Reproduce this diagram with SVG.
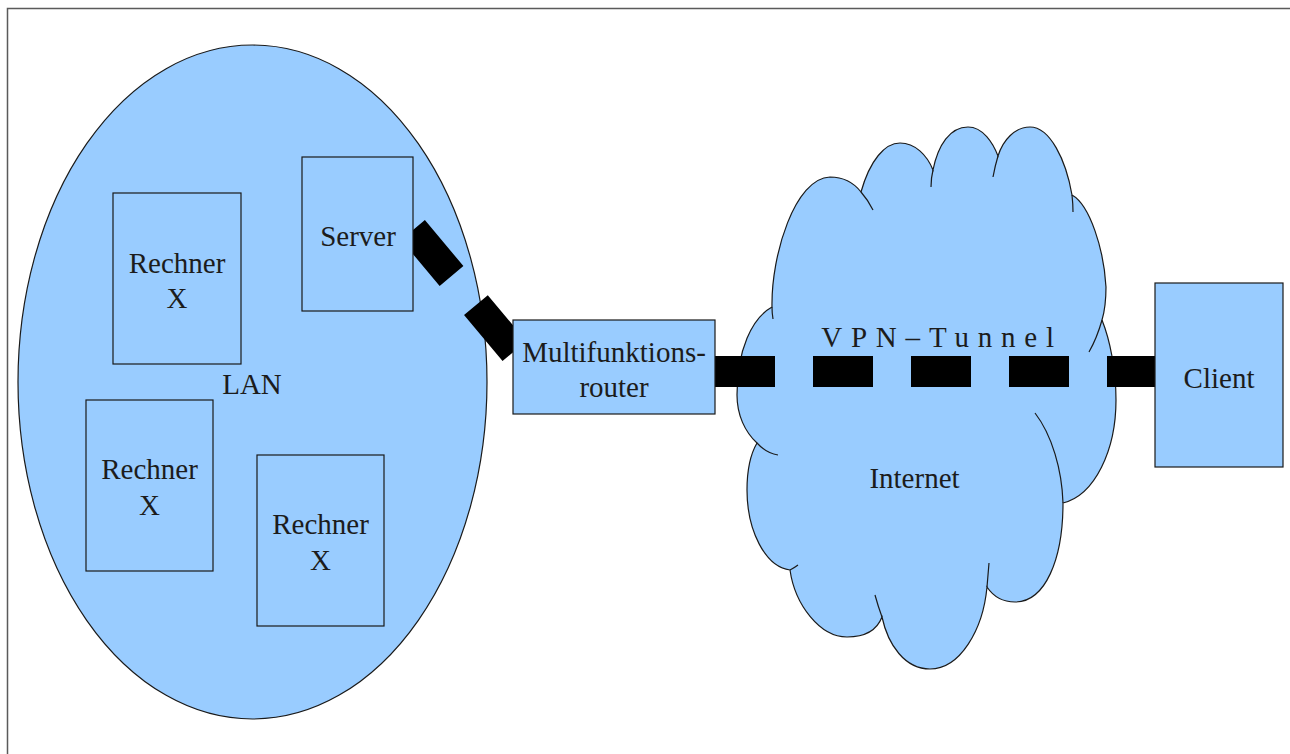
<svg xmlns="http://www.w3.org/2000/svg" width="1290" height="754" viewBox="0 0 1290 754">
<style>
.shape{fill:#99ccff;stroke:#1a1a1a;stroke-width:1.2}
.curl{fill:none;stroke:#1a1a1a;stroke-width:1.2}
.lbl{font-family:"Liberation Serif","Times New Roman",serif;font-size:29px;fill:#1c1c1c;text-anchor:middle}
.conn{fill:none;stroke:#000;stroke-width:31;stroke-dasharray:60 38;stroke-linecap:butt}
</style>
<rect x="0" y="0" width="1290" height="754" fill="#fff"/>
<path d="M7.5,754 V8.5 H1290" fill="none" stroke="#5a5a5a" stroke-width="1.5"/>
<g id="lan">
<ellipse class="shape" cx="252.5" cy="382" rx="234.5" ry="337"/>
<text class="lbl" x="252" y="394">LAN</text>
</g>
<g id="internet">
<path class="shape" d="M772,307 C771,255 795,178 830,177 C845,177 854,183 861,192 C870,160 885,143 900,143 C915,143 927,155 933,170 C938,145 950,127 968,127 C983,127 993,143 998,156 C1003,140 1015,127 1030,127 C1050,127 1066,160 1072,195 C1090,205 1104,250 1106,287 C1106,300 1105,310 1102,320 C1110,340 1116,370 1116,400 C1116,450 1095,495 1063,503 C1063,560 1045,602 1015,602 C1003,602 993,596 987,587 C983,630 960,669 930,669 C905,669 888,645 882,617 C877,630 865,637 847,637 C820,637 795,605 790,570 C765,567 747,530 747,490 C747,470 750,455 757,443 C745,432 737,415 737,395 C737,350 752,318 772,307 Z"/>
<path class="curl" d="M772,307 Q772,313 773,319 M861,192 Q868,200 873,210 M933,170 Q931,178 931,187 M998,156 Q995,166 993,177 M1072,195 Q1073,204 1073,212 M1102,320 Q1097,338 1089,352 M1063,503 C1062,470 1052,435 1035,413 M987,587 Q988,575 989,563 M882,617 Q878,606 875,595 M790,570 Q794,568 798,565 M757,443 Q766,453 778,455"/>
<text class="lbl" x="914.5" y="488">Internet</text>
</g>
<g id="connectors">
<line class="conn" x1="413" y1="230" x2="516" y2="353"/>
<line class="conn" x1="715" y1="371.5" x2="1156" y2="371.5"/>
<text class="lbl" x="942" y="347" style="letter-spacing:8.8px">VPN–Tunnel</text>
</g>
<g id="rechner1">
<rect class="shape" x="113" y="193" width="128" height="171"/>
<text class="lbl" x="177" y="273">Rechner</text>
<text class="lbl" x="177" y="308">X</text>
</g>
<g id="server">
<rect class="shape" x="302" y="157" width="111" height="154"/>
<text class="lbl" x="358" y="246">Server</text>
</g>
<g id="rechner2">
<rect class="shape" x="86" y="400" width="127" height="171"/>
<text class="lbl" x="149.5" y="479">Rechner</text>
<text class="lbl" x="149.5" y="515">X</text>
</g>
<g id="rechner3">
<rect class="shape" x="257" y="455" width="127" height="171"/>
<text class="lbl" x="320.5" y="534">Rechner</text>
<text class="lbl" x="320.5" y="570">X</text>
</g>
<g id="router">
<rect class="shape" x="513" y="320" width="202" height="94"/>
<text class="lbl" x="614" y="362">Multifunktions-</text>
<text class="lbl" x="614" y="397">router</text>
</g>
<g id="client">
<rect class="shape" x="1155" y="283" width="128" height="184"/>
<text class="lbl" x="1219" y="388">Client</text>
</g>
</svg>
